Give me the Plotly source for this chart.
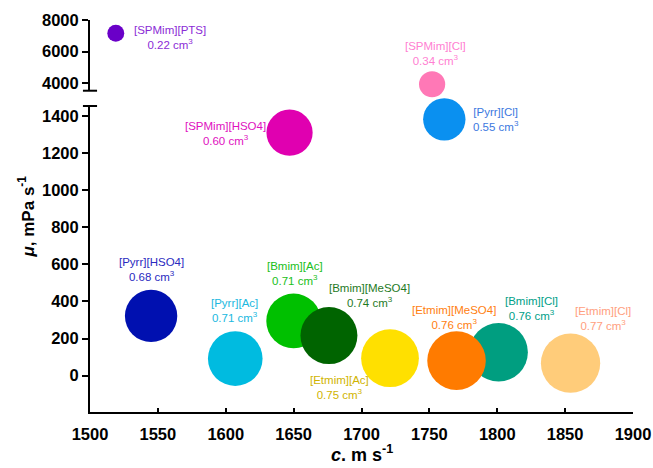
import plotly.graph_objects as go

# Ionic liquids: speed of sound c (m/s), viscosity mu (mPa s), molar volume (cm3)
names = ["[SPMim][PTS]", "[SPMim][Cl]", "[SPMim][HSO4]", "[Pyrr][Cl]",
         "[Pyrr][HSO4]", "[Pyrr][Ac]", "[Bmim][Ac]", "[Bmim][MeSO4]",
         "[Etmim][Ac]", "[Bmim][Cl]", "[Etmim][MeSO4]", "[Etmim][Cl]"]
speed = [1519, 1752, 1647, 1761, 1545, 1607, 1650, 1676, 1721, 1801, 1770, 1854]
viscosity = [7160, 3940, 1310, 1382, 322, 92, 295, 216, 94, 126, 81, 67]
volume = [0.22, 0.34, 0.60, 0.55, 0.68, 0.71, 0.71, 0.74, 0.75, 0.76, 0.76, 0.77]
# which of the two stacked y-axes each compound belongs to (upper = high viscosity)
upper = [True, True, False, False, False, False, False, False, False, False, False, False]

bubble_colors = ["#6A00C8", "#FF78B6", "#E000B0", "#0A90F0", "#0010B0", "#00BBE0",
                 "#00C000", "#006400", "#FFE000", "#009E80", "#FF7B00", "#FFCC7A"]
label_colors = ["#8B2BD6", "#FF80D2", "#E010C0", "#3C78E0", "#2A2AC0", "#20B8E0",
                "#20C020", "#1F7A1F", "#D0B400", "#00A088", "#FF8010", "#FFA080"]
# label offsets from the bubble centre, in pixels
label_dx = [54, 3, -64, 52, 0, -1, 1, 41, -51, 33, -3, 32]
label_dy = [-4, 31, -1, 0, 46, 48, 47, 40, -29, 44, 43, 45]

x_ticks = [1500, 1550, 1600, 1650, 1700, 1750, 1800, 1850, 1900]
y_ticks_low = [0, 200, 400, 600, 800, 1000, 1200, 1400]
y_ticks_high = [4000, 6000, 8000]

FONT = "Arial, Liberation Sans, sans-serif"
PX_PER_CM3 = 77  # bubble diameter in px per cm3 of molar volume

fig = go.Figure()
for i, n in enumerate(names):
    fig.add_trace(go.Scatter(
        x=[speed[i]], y=[viscosity[i]],
        yaxis="y2" if upper[i] else "y",
        mode="markers",
        marker=dict(size=[volume[i]], sizemode="diameter", sizeref=1 / PX_PER_CM3,
                    color=bubble_colors[i], line=dict(width=0), opacity=1),
        cliponaxis=False, showlegend=False, name=n,
    ))
    fig.add_annotation(
        x=speed[i], y=viscosity[i], xref="x", yref="y2" if upper[i] else "y",
        text=f"{n}<br>{volume[i]:.2f} cm<sup>3</sup>",
        showarrow=False, xshift=label_dx[i], yshift=label_dy[i],
        font=dict(family=FONT, size=11.5, color=label_colors[i]),
        align="center",
    )

axis_common = dict(showline=True, linewidth=2, linecolor="black", showgrid=False,
                   zeroline=False, tickwidth=2, tickcolor="black",
                   automargin=False,
                   tickfont=dict(family=FONT, size=16.5, color="black", weight="bold"))

fig.update_layout(
    template="none",
    width=653, height=468,
    margin=dict(l=90, r=20, t=20, b=56),
    plot_bgcolor="white", paper_bgcolor="white",
    xaxis=dict(range=[1500, 1900], tickvals=x_ticks, ticks="inside", ticklen=4,
               ticklabelstandoff=6, anchor="y", **axis_common),
    yaxis=dict(domain=[0, 0.7806], range=[-196, 1454], tickvals=y_ticks_low,
               ticks="outside", ticklen=6, anchor="x", **axis_common),
    yaxis2=dict(domain=[0.8196, 1], range=[3532, 8000], tickvals=y_ticks_high,
                ticks="outside", ticklen=6, anchor="x", **axis_common),
)

# caps marking the break between the two y-axis segments
for yref, yv in [("y2 domain", 0), ("y domain", 1)]:
    fig.add_shape(type="line", xref="paper", yref=yref, x0=-0.013, x1=0.013,
                  y0=yv, y1=yv, line=dict(color="black", width=2))

# axis titles
fig.add_annotation(xref="paper", yref="paper", x=0.5, y=-0.105, yanchor="middle",
                   xshift=0, showarrow=False,
                   text="<b><i>c</i>. m s<sup>-1</sup></b>",
                   font=dict(family=FONT, size=18, color="black"))
fig.add_annotation(xref="paper", yref="paper", x=-0.117, y=0.50, textangle=-90,
                   xanchor="center", yanchor="middle", showarrow=False,
                   text="<b><i>μ</i>, mPa s<sup>-1</sup></b>",
                   font=dict(family=FONT, size=17, color="black"))

fig.write_html("out.html")
